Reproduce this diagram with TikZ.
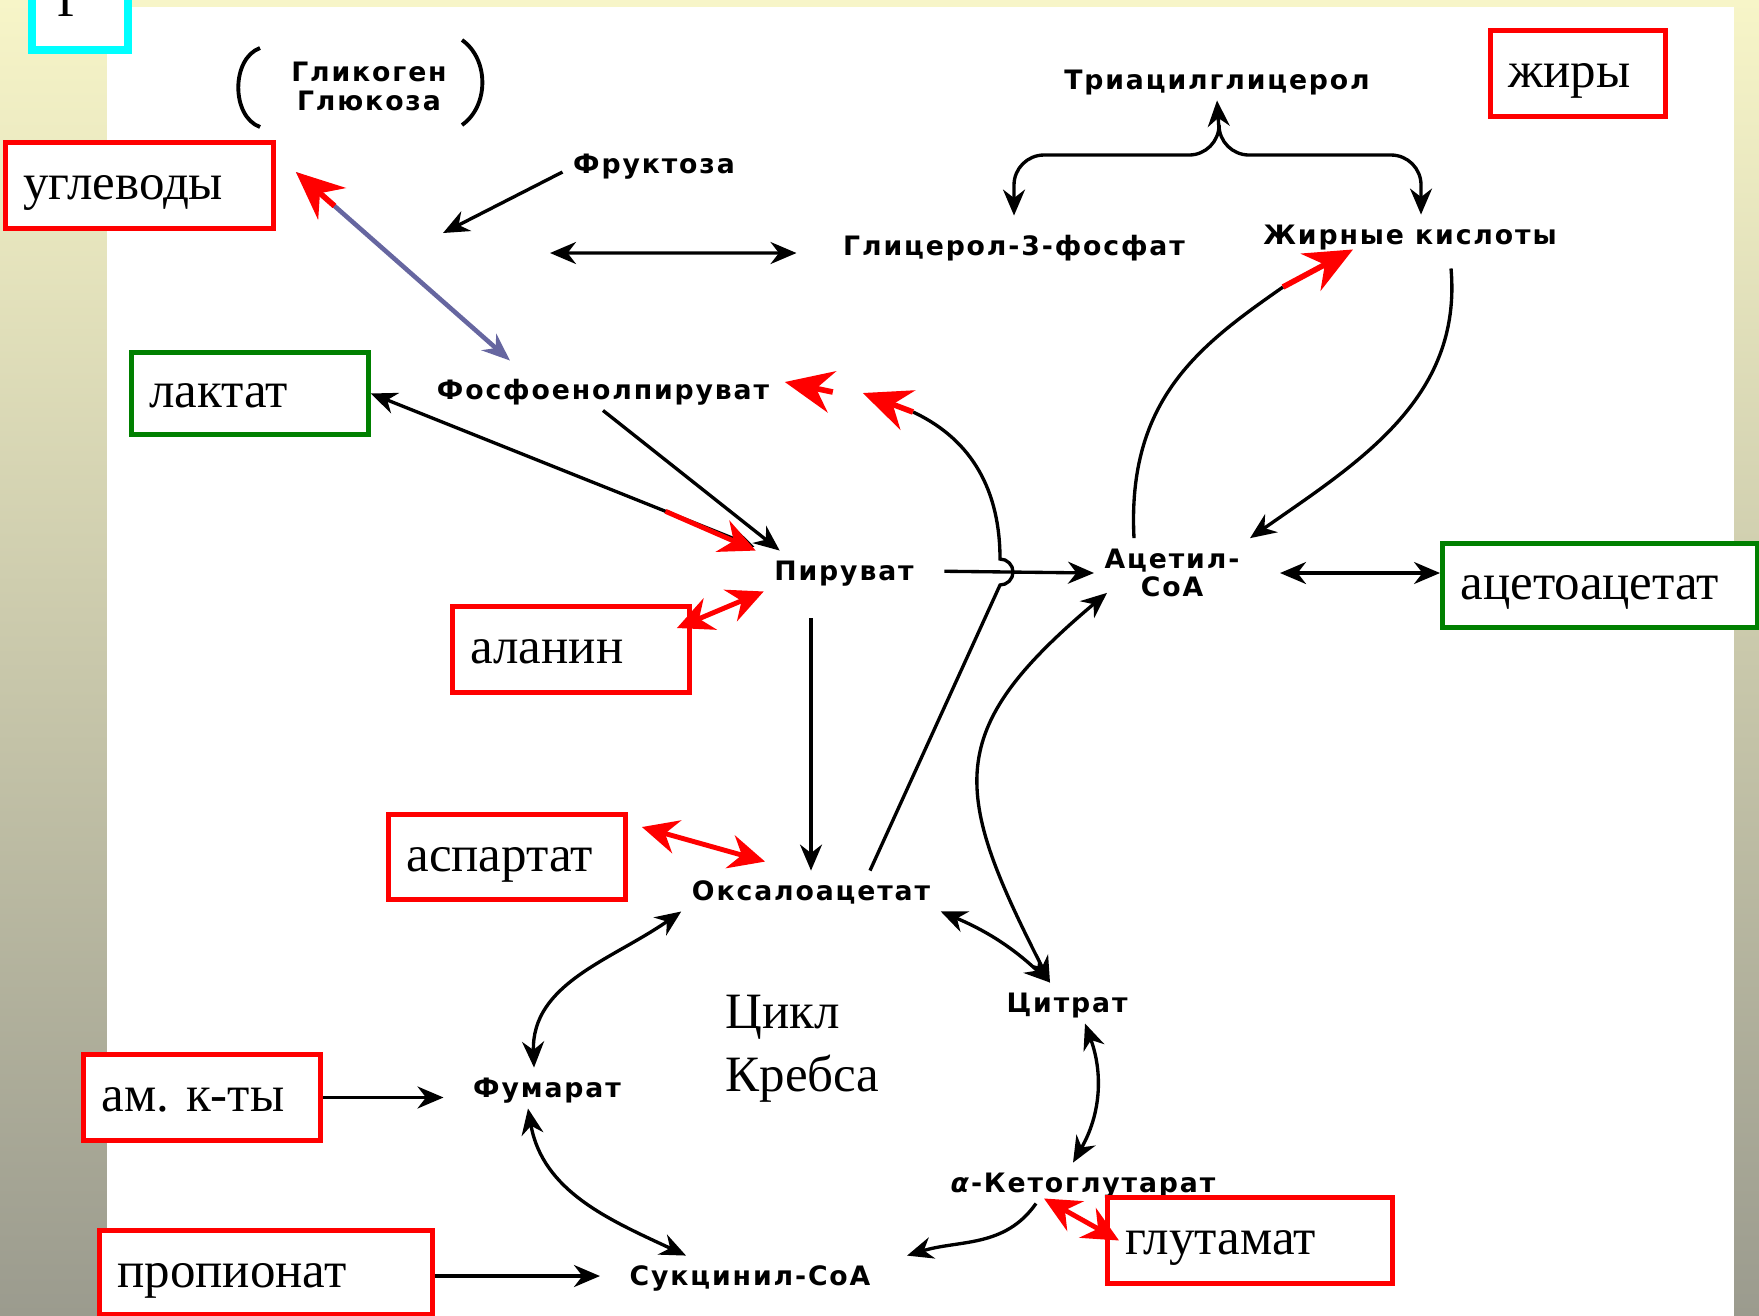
\documentclass[tikz,border=0pt]{standalone}
\usepackage{fontspec}
\setmainfont{Liberation Serif}
\newfontfamily\metfont{DejaVu Sans}[LetterSpace=7]
\usetikzlibrary{arrows.meta, calc}
\definecolor{bgtop}{RGB}{247,245,200}
\definecolor{bgbot}{RGB}{155,155,142}
\definecolor{slate}{RGB}{102,102,160}
\definecolor{boxgreen}{RGB}{0,128,0}
\definecolor{boxcyan}{RGB}{0,255,255}

\begin{document}
\begin{tikzpicture}[
			metab/.style={font=\metfont\bfseries\fontsize{7.6}{8.4}\selectfont, inner sep=1mm, text height=1.95mm, text depth=0pt},
			metabtwo/.style={font=\metfont\bfseries\fontsize{7.6}{8.1}\selectfont, inner sep=1mm, align=center},
			box/.style={draw=red, line width=1.4pt, fill=white, anchor=north west, align=left, inner xsep=1.8mm, inner ysep=0pt, text height=4mm, text depth=1.1mm, font=\fontsize{14.5}{17.5}\selectfont},
			greenbox/.style={box, draw=boxgreen},
			conn/.style={line width=0.95pt},
			arrow/.style={conn, -{Stealth[length=2.6mm,width=2.2mm]}},
			dblarrow/.style={conn, {Stealth[length=2.6mm,width=2.2mm]}-{Stealth[length=2.6mm,width=2.2mm]}},
			redarrow/.style={draw=red, line width=1.4pt, -{Stealth[length=3.6mm,width=3.4mm,inset=1.2mm]}},
			reddbl/.style={draw=red, line width=1.4pt, {Stealth[length=3.6mm,width=3.4mm,inset=1.2mm]}-{Stealth[length=3.6mm,width=3.4mm,inset=1.2mm]}},
			redbig/.style={draw=red, line width=1.6pt, -{Stealth[length=4.8mm,width=4.2mm,inset=1.6mm]}},
			bluedbl/.style={draw=slate, line width=1.3pt, {Stealth[length=2.8mm,width=2.2mm]}-{Stealth[length=2.8mm,width=2.2mm]}}
			]

			\useasboundingbox (0,0) rectangle (17.59,-13.15);
			\clip (0,0) rectangle (17.59,-13.15);
			\shade[top color=bgtop, bottom color=bgbot] (0,0) rectangle (17.59,-13.15);
			\fill[white] (1.07,-0.07) rectangle (17.34,-13.2);
			\draw[boxcyan, line width=2.1pt, fill=white] (0.32,0.3) rectangle (1.28,-0.50);
			\node[anchor=base west, inner sep=0pt, font=\fontsize{14.5}{17}\selectfont] (sec) at (0.57,-0.16) {Г};

			\node[metabtwo] (glyc) at (3.69,-0.865) {Гликоген\\Глюкоза};
			\node[metab] (fruc) at (6.54,-1.64) {Фруктоза};
			\node[metab] (tag) at (12.17,-0.80) {Триацилглицерол};
			\node[metab] (g3p) at (10.14,-2.46) {Глицерол-3-фосфат};
			\node[metab] (fa) at (14.10,-2.35) {Жирные кислоты};
			\node[metab] (pep) at (6.03,-3.90) {Фосфоенолпируват};
			\node[metab] (pyr) at (8.44,-5.71) {Пируват};
			\node[metabtwo] (acoa) at (11.72,-5.73) {Ацетил-\\CoA};
			\node[metab] (oxal) at (8.11,-8.91) {Оксалоацетат};
			\node[metab] (fum) at (5.47,-10.88) {Фумарат};
			\node[metab] (succ) at (7.50,-12.76) {Сукцинил-CoA};
			\node[metab] (cit) at (10.67,-10.03) {Цитрат};
			\node[metab] (akg) at (10.83,-11.83) {\textit{α}-Кетоглутарат};
			\node[anchor=north west, inner sep=0pt, align=left, font=\fontsize{14.5}{18}\selectfont] (krebs) at (7.25,-9.94) {Цикл\\Кребса};

			\node[box, text width=2.32cm, minimum height=8.6mm] (carb) at (0.03,-1.40) {углеводы};
			\node[box, text width=1.39cm, minimum height=8.6mm] (fats) at (14.88,-0.28) {жиры};
			\node[greenbox, text width=2.01cm, minimum height=8.2mm] (lact) at (1.29,-3.50) {лактат};
			\node[box, text width=2.01cm, minimum height=8.6mm] (ala) at (4.50,-6.04) {аланин};
			\node[box, text width=2.01cm, minimum height=8.5mm] (asp) at (3.86,-8.12) {аспартат};
			\node[greenbox, text width=2.79cm, minimum height=8.4mm] (acac) at (14.40,-5.41) {ацетоацетат};
			\node[box, text width=2.01cm, minimum height=8.6mm] (amk) at (0.81,-10.52) {ам.\ к-ты};
			\node[box, text width=2.97cm, minimum height=8.4mm] (prop) at (0.97,-12.28) {пропионат};
			\node[box, text width=2.49cm, minimum height=8.6mm] (glu) at (11.05,-11.95) {глутамат};

			\coordinate (gapl) at (4.43,-2.33);
			\coordinate (gapr) at (5.50,-2.53);
			\coordinate (stem) at (12.19,-1.30);
			\coordinate (hop) at (10.00,-5.72);
			\coordinate (pepin) at (9.13,-4.12);
			\coordinate (fain) at (12.83,-2.87);
			\coordinate (carbin) at ([xshift=2mm,yshift=-3.2mm]carb.north east);
			\coordinate (pepup) at ([xshift=-9.3mm,yshift=0.9mm]pep.north);

			\draw[line width=1.1pt] ([shift={(-1.09,0.385)}]glyc.center) to[bend right=70] ([shift={(-1.09,-0.405)}]glyc.center);
			\draw[line width=1.1pt] ([shift={(0.93,0.465)}]glyc.center) to[bend left=55] ([shift={(0.93,-0.385)}]glyc.center);

			\draw[arrow] ([yshift=-0.8mm]fruc.west) -- (gapl);
			\draw[dblarrow, shorten >=3.6mm] (gapr) -- ([yshift=-0.7mm]g3p.west);
			\draw[arrow] (stem) -- (tag.south);
			\draw[arrow, rounded corners=3mm, shorten >=1mm] (stem) -- ++(0,-0.25) -| (g3p.north);
			\draw[arrow, rounded corners=3mm] (stem) -- ++(0,-0.25) -| ([xshift=1.1mm]fa.north);

			\draw[arrow] (pep.south) -- ([xshift=1.6mm]pyr.north west);
			\draw[dblarrow, shorten >=1mm] (lact.east) -- (pyr.north west);
			\draw[redarrow] ($(lact.east)!0.75!(pyr.north west)$) -- ([xshift=-0.8mm]pyr.north west);
			\draw[reddbl] ([xshift=-1.5mm,yshift=-2.4mm]ala.north east) -- (pyr.south west);
			\draw[arrow, shorten <=2.7mm] (pyr.south -| oxal.north) -- (oxal.north);
			\draw[reddbl] ([xshift=1.4mm,yshift=-1.5mm]asp.north east) -- ([xshift=-4.6mm,yshift=0.9mm]oxal.north);
			\draw[arrow, shorten <=2mm] (pyr.east) -- (acoa.west);
			\draw[conn] ([xshift=5.9mm]oxal.north) -- ([yshift=-1.3mm]hop) arc[start angle=-90, end angle=90, radius=1.3mm] to[out=90, in=-25] (pepin);
			\draw[redbig] (pepin) -- ([xshift=8.3mm,yshift=-0.3mm]pep.east);
			\draw[redbig] ([xshift=5.3mm,yshift=-0.2mm]pep.east) -- ([xshift=0.5mm,yshift=0.8mm]pep.east);
			\draw[bluedbl] (carbin) -- (pepup);
			\draw[redbig] ($(carbin)!0.18!(pepup)$) -- (carbin);

			\draw[arrow, shorten >=1.9mm] (amk.east) -- (amk.east -| fum.west);
			\draw[arrow, shorten >=1.9mm] (prop.east |- succ.west) -- (succ.west);
			\draw[dblarrow] (oxal.south west) to[out=-145, in=92] ([xshift=-1.3mm]fum.north);
			\draw[dblarrow] ([xshift=-1.9mm]fum.south) to[out=-80, in=155] ([xshift=-6.4mm]succ.north);
			\draw[dblarrow] (oxal.south east) to[bend left=10] ([xshift=-1.7mm]cit.north);
			\draw[dblarrow] ([xshift=1.3mm,yshift=1.5mm]acoa.south west) to[out=-140, in=117, looseness=1.4] ([xshift=-1.7mm]cit.north);
			\draw[dblarrow] ([xshift=1.8mm]cit.south) to[bend left=25] ([xshift=-1mm]akg.north);
			\draw[arrow] ([xshift=-4.7mm]akg.south) to[out=-125, in=17] ([xshift=2.6mm]succ.north east);
			\draw[reddbl] ([xshift=-3.9mm,yshift=0.5mm]akg.south) -- ([xshift=1.4mm]glu.west);

			\draw[dblarrow, shorten <=3mm] (acoa.east) -- (acoa.east -| acac.west);
			\draw[arrow] ([xshift=4.1mm,yshift=-1.3mm]fa.south) to[out=-85, in=35] (acoa.north east);
			\draw[conn] ([xshift=-3.8mm]acoa.north) .. controls +(93:1.4) and +(-145:1.0) .. (fain);
			\draw[redbig] (fain) -- ([xshift=-5.7mm,yshift=0.6mm]fa.south);

		\end{tikzpicture}
\end{document}
